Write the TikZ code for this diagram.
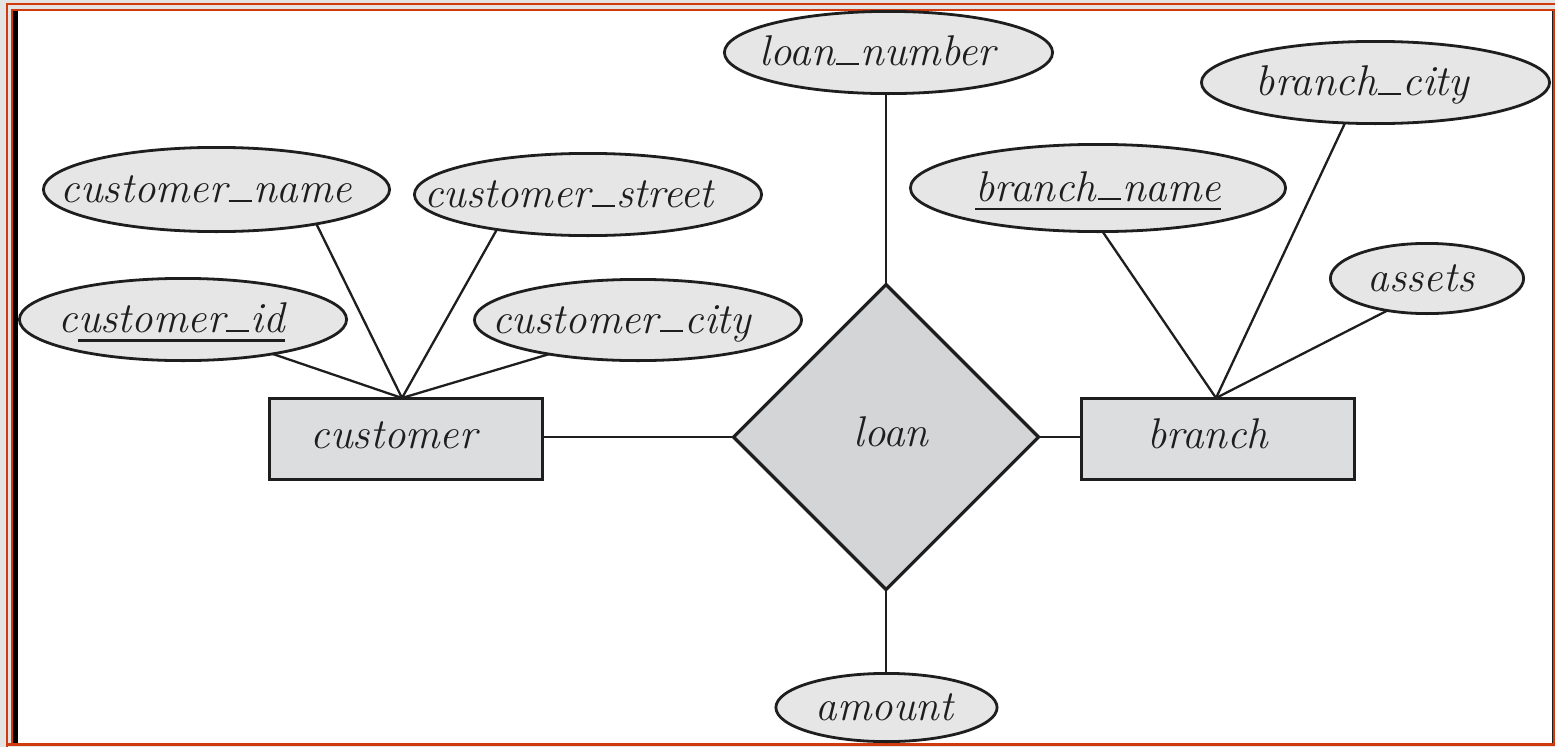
\documentclass[tikz,border=0pt]{standalone}
\usetikzlibrary{shapes.geometric}
\definecolor{frameor}{HTML}{D03A0E}
\definecolor{bggray}{HTML}{E4E4E4}
\definecolor{ellfill}{HTML}{E6E6E6}
\definecolor{rectfill}{HTML}{DCDDDE}
\definecolor{diafill}{HTML}{D3D5D6}
\definecolor{ink}{HTML}{1E1E1E}
\newcommand\tx[2]{\makebox[0pt]{\hspace*{#1pt}\hspace*{#1pt}#2}}
\newcommand\ulx[1]{\setbox0\hbox{#1}\rlap{\rule[-9.3pt]{\wd0}{2.5pt}}\box0}
\newcommand\us{\kern1.5pt\rule[0.6pt]{23pt}{2.3pt}\kern1.5pt}
\begin{document}
\begin{tikzpicture}[x=1pt,y=-1pt,
  every node/.style={font=\fontsize{43}{50}\selectfont\itshape, text=ink},
  attr/.style={ellipse, draw=ink, line width=2.8pt, fill=ellfill, inner sep=0pt, outer sep=0pt,
    text height=32pt, text depth=6pt},
  entity/.style={rectangle, draw=ink, line width=2.6pt, fill=rectfill, inner sep=0pt, outer sep=0pt,
    minimum width=273.4pt, minimum height=81.4pt, text height=24pt, text depth=6pt},
  rel/.style={diamond, aspect=1, draw=ink, line width=3.2pt, fill=diafill, inner sep=0pt, outer sep=0pt,
    minimum width=305pt, minimum height=305pt, text height=24pt, text depth=6pt},
  conn/.style={draw=ink, line width=2.3pt}]
\useasboundingbox (0,0) rectangle (1555,747);
% frame
\fill[bggray] (0,0) rectangle (1555,747);
\fill[white] (11,9) rectangle (1555,745);
\fill[frameor] (6,3.0) rectangle (1555,4.6);
\fill[frameor] (6,3.0) rectangle (7.5,747);
\fill[frameor] (11,8.8) rectangle (1555,10.9);
\fill[frameor] (11,8.8) rectangle (12.5,745);
\fill[black] (13.2,10.9) rectangle (18.3,743.3);
\fill[ink] (1552.0,10.9) rectangle (1553.3,743.3);
\fill[frameor] (1553.3,8.8) rectangle (1555,745.7);
\fill[frameor] (6,743.3) rectangle (1555,745.9);

% attributes
\node[attr, minimum width=346.2pt, minimum height=84.2pt] (cname) at (216.5,189.5) {\tx{-10}{customer\us name}};
\node[attr, minimum width=347.2pt, minimum height=82.2pt] (cstreet) at (588,194.5) {\tx{-19}{customer\us street}};
\node[attr, minimum width=327.2pt, minimum height=82.2pt] (cid) at (183,319.5) {\tx{-11}{c\ulx{ustomer\us id}}};
\node[attr, minimum width=327.2pt, minimum height=81.2pt] (ccity) at (638,320) {\tx{-16}{customer\us city}};
\node[attr, minimum width=328.2pt, minimum height=82.2pt] (lnum) at (888.5,52.5) {\tx{-11}{loan\us number}};
\node[attr, minimum width=375.2pt, minimum height=87.2pt] (bname) at (1098,188) {\tx{0}{\ulx{branch\us name}}};
\node[attr, minimum width=348.2pt, minimum height=82.2pt] (bcity) at (1375.5,82.5) {\tx{-13}{branch\us city}};
\node[attr, minimum width=193.2pt, minimum height=70.2pt] (assets) at (1427,278.5) {\tx{-6}{assets}};
\node[attr, minimum width=221.2pt, minimum height=68.2pt] (amount) at (886.5,707.5) {\tx{-2}{amount}};

% entities and relationship
\node[entity] (cust) at (406,439) {\tx{-12}{customer}};
\node[entity] (branch) at (1218,439) {\tx{-10}{branch}};
\node[rel] (loan) at (886,437) {\tx{5}{loan}};

% junctions
\coordinate (cj) at (402,398);
\coordinate (bj) at (1216,398);

% connectors
\draw[conn] (loan.north |- lnum.south) -- (loan.north);
\draw[conn] (loan.south) -- (loan.south |- amount.north);
\draw[conn] (cust.east |- loan.west) -- (loan.west);
\draw[conn] (loan.east) -- (branch.west |- loan.east);
\draw[conn] (cname.-19) -- (cj);
\draw[conn] (cstreet.-159) -- (cj);
\draw[conn] (cid.-21) -- (cj);
\draw[conn] (ccity.-159) -- (cj);
\draw[conn] (bname.-84) -- (bj);
\draw[conn] (bcity.-127) -- (bj);
\draw[conn] (assets.-141) -- (bj);
\end{tikzpicture}
\end{document}
